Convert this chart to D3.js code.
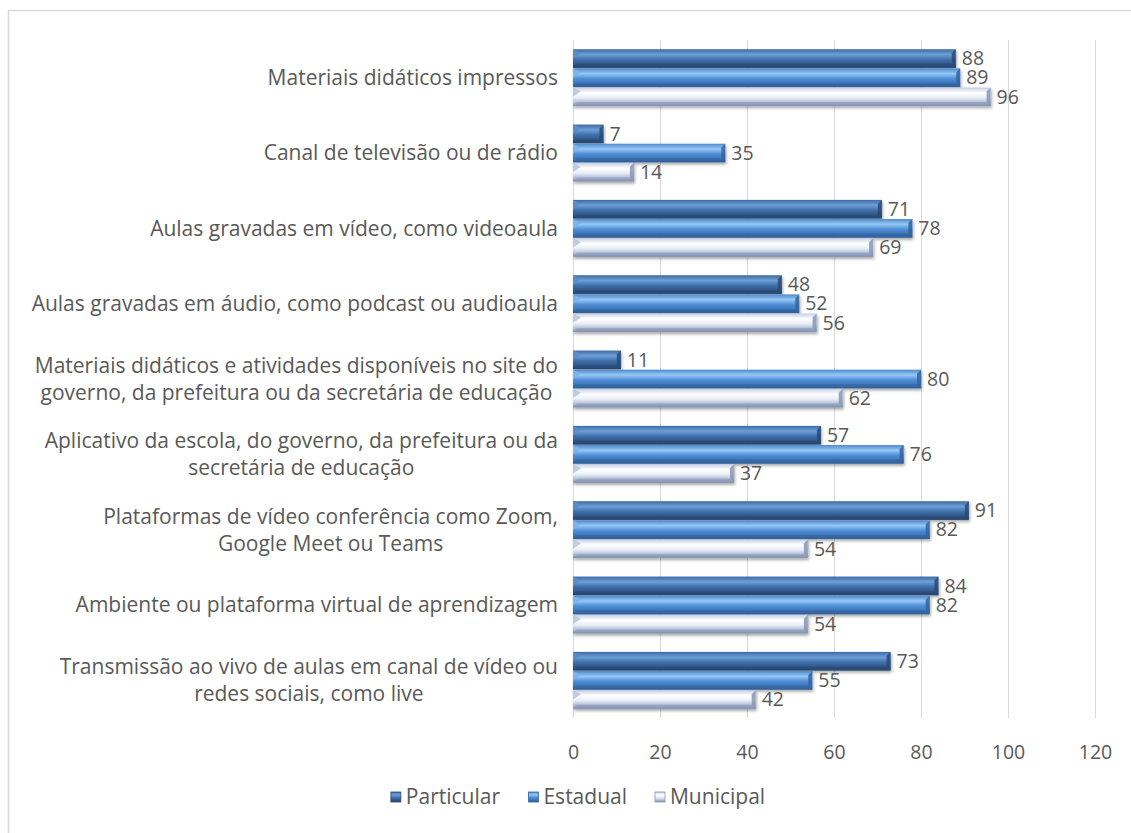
<!DOCTYPE html>
<html>
<head>
<meta charset="utf-8">
<script src="https://cdn.jsdelivr.net/npm/d3@7"></script>
<style>
  body { margin: 0; background: #fff; }
  svg text { font-family: "Open Sans", "Noto Sans", sans-serif; fill: #595959; }
</style>
</head>
<body>
<div class="chart"></div>
<script>
// Data.
const categories = [
    ['Materiais didáticos impressos'],
    ['Canal de televisão ou de rádio'],
    ['Aulas gravadas em vídeo, como videoaula'],
    ['Aulas gravadas em áudio, como podcast ou audioaula'],
    ['Materiais didáticos e atividades disponíveis no site do', 'governo, da prefeitura ou da secretária de educação'],
    ['Aplicativo da escola, do governo, da prefeitura ou da', 'secretária de educação'],
    ['Plataformas de vídeo conferência como Zoom,', 'Google Meet ou Teams'],
    ['Ambiente ou plataforma virtual de aprendizagem'],
    ['Transmissão ao vivo de aulas em canal de vídeo ou', 'redes sociais, como live']
];
const seriesNames = ['Particular', 'Estadual', 'Municipal'];
const particular = [88, 7, 71, 48, 11, 57, 91, 84, 73];
const estadual   = [89, 35, 78, 52, 80, 76, 82, 82, 55];
const municipal  = [96, 14, 69, 56, 62, 37, 54, 54, 42];
const xTicks = [0, 20, 40, 60, 80, 100, 120];

const seriesValues = [particular, estadual, municipal];

// Dimensions.
const W = 1131, H = 833;
const plot = { left: 573, right: 1095, top: 40, bottom: 718 };
const labelSize = 21,
    numSize = 19.5;

const svg = d3.select('.chart')
    .append('svg')
        .attr('width', W)
        .attr('height', H);

// Gradients for the bevelled bars (one set per series).
const defs = svg.append('defs');
const palettes = [
    { stops: ['#3b6aa4', '#6f9fd6', '#3f71ad', '#2f5686', '#243f63'], cap: '#2a4a75', sw: '#5d8cc4' },
    { stops: ['#4d88cc', '#96c8f6', '#4f8fd6', '#3b73b8', '#2d5a90'], cap: '#33649f', sw: '#7fb3ea' },
    { stops: ['#c3cfe5', '#ffffff', '#e9eef7', '#adbad3', '#7f8fae'], cap: '#8595b5', sw: '#b9c6de' }
];
const offsets = ['0%', '28%', '55%', '82%', '100%'];

palettes.forEach((p, i) => {
    const g = defs.append('linearGradient')
        .attr('id', 'grad' + i)
        .attr('x1', 0).attr('y1', 0).attr('x2', 0).attr('y2', 1);
    g.selectAll('stop')
        .data(p.stops)
        .join('stop')
            .attr('offset', (d, j) => offsets[j])
            .attr('stop-color', d => d);
});

const shadow = defs.append('filter')
    .attr('id', 'shadow')
    .attr('x', '-5%').attr('y', '-30%')
    .attr('width', '115%').attr('height', '170%');
shadow.append('feDropShadow')
    .attr('dx', 1).attr('dy', 2)
    .attr('stdDeviation', 1.4)
    .attr('flood-color', '#000')
    .attr('flood-opacity', 0.35);

// Chart frame (only top and left edges show in the crop).
svg.append('rect')
    .attr('x', 8.5).attr('y', 10.5)
    .attr('width', W + 50).attr('height', H + 50)
    .attr('fill', 'none')
    .attr('stroke', '#d9d9d9')
    .attr('stroke-width', 1.5);

// Scales.
const x = d3.scaleLinear().domain([0, 120]).range([plot.left, plot.right]);
const y = d3.scaleBand()
    .domain(d3.range(categories.length))
    .range([plot.top, plot.bottom])
    .paddingInner(0.23)
    .paddingOuter(0.115);
const ySub = d3.scaleBand()
    .domain(d3.range(seriesNames.length))
    .range([0, y.bandwidth()])
    .padding(0.03);

// Gridlines.
svg.append('g')
    .attr('class', 'grid')
    .selectAll('line')
    .data(xTicks)
    .join('line')
        .attr('x1', d => Math.round(x(d)) + 0.5)
        .attr('x2', d => Math.round(x(d)) + 0.5)
        .attr('y1', plot.top)
        .attr('y2', plot.bottom)
        .attr('stroke', '#d9d9d9')
        .attr('stroke-width', 1);

// X axis labels.
const xAxis = svg.append('g')
    .attr('transform', `translate(0, ${plot.bottom + 34})`)
    .call(d3.axisBottom(x).tickValues(xTicks).tickSize(0).tickPadding(0));
xAxis.select('.domain').remove();
xAxis.selectAll('text')
    .attr('font-size', numSize)
    .attr('font-family', null)
    .attr('dy', '0.35em')
    .style('fill', '#595959');

// Category labels (lines centred within a block right-aligned to the axis).
const catG = svg.append('g').attr('class', 'categories');
const lineH = 27;
categories.forEach((lines, i) => {
    const cy = y(i) + y.bandwidth() / 2;
    const t = catG.append('text')
        .attr('font-size', labelSize)
        .attr('text-anchor', 'middle');
    lines.forEach((ln, j) => {
        t.append('tspan')
            .attr('y', cy + (j - (lines.length - 1) / 2) * lineH)
            .attr('dy', '0.35em')
            .text(ln);
    });
    // centre lines within the widest one, right edge near the axis
    const widest = d3.max(t.selectAll('tspan').nodes(), n => n.getComputedTextLength());
    t.selectAll('tspan').attr('x', plot.left - 15 - widest / 2);
});

// Bars.
const bars = [];
categories.forEach((c, i) => {
    seriesValues.forEach((vals, s) => {
        bars.push({ cat: i, s: s, v: vals[i] });
    });
});

const barG = svg.append('g').attr('class', 'bars');
const bar = barG.selectAll('g.bar')
    .data(bars)
    .join('g')
        .attr('class', 'bar')
        .attr('transform', d => `translate(${x(0)}, ${y(d.cat) + ySub(d.s)})`)
        .attr('filter', 'url(#shadow)');

const bh = ySub.bandwidth();
const bevel = 4;

bar.append('rect')
    .attr('width', d => x(d.v) - x(0))
    .attr('height', bh)
    .attr('fill', d => `url(#grad${d.s})`);

// right-hand bevel
bar.append('path')
    .attr('d', d => {
        const w = x(d.v) - x(0);
        return `M${w - bevel},${bevel} L${w},0 L${w},${bh} L${w - bevel},${bh - bevel} Z`;
    })
    .attr('fill', d => palettes[d.s].cap)
    .attr('opacity', 0.85);

// left-hand bevel triangle
bar.append('path')
    .attr('d', `M0,0 L${bevel + 4},${bevel} L0,${bh / 2} Z`)
    .attr('fill', d => palettes[d.s].sw)
    .attr('opacity', 0.9);

// bottom edge
bar.append('path')
    .attr('d', d => {
        const w = x(d.v) - x(0);
        return `M0,${bh} L${bevel},${bh - bevel} L${w - bevel},${bh - bevel} L${w},${bh} Z`;
    })
    .attr('fill', d => palettes[d.s].cap)
    .attr('opacity', 0.55);

// Value labels.
svg.append('g')
    .attr('class', 'values')
    .selectAll('text')
    .data(bars)
    .join('text')
        .attr('x', d => x(d.v) + 6)
        .attr('y', d => y(d.cat) + ySub(d.s) + bh / 2)
        .attr('dy', '0.35em')
        .attr('font-size', numSize)
        .text(d => d.v);

// Legend.
const legendY = 797;
const legend = svg.append('g').attr('class', 'legend');
const items = legend.selectAll('g')
    .data(seriesNames)
    .join('g');
items.append('rect')
    .attr('width', 10).attr('height', 10)
    .attr('y', -5)
    .attr('fill', (d, i) => `url(#grad${i})`)
    .attr('stroke', (d, i) => palettes[i].cap)
    .attr('stroke-width', 0.8);
items.append('text')
    .attr('x', 15)
    .attr('dy', '0.35em')
    .attr('font-size', labelSize)
    .text(d => d);

let lx = 0;
const gap = 28;
items.each(function () {
    const w = this.getBBox().width;
    d3.select(this).attr('transform', `translate(${lx}, 0)`);
    lx += w + gap;
});
const totalW = lx - gap;
const legendCenter = 578;
legend.attr('transform', `translate(${legendCenter - totalW / 2}, ${legendY})`);
</script>
</body>
</html>
